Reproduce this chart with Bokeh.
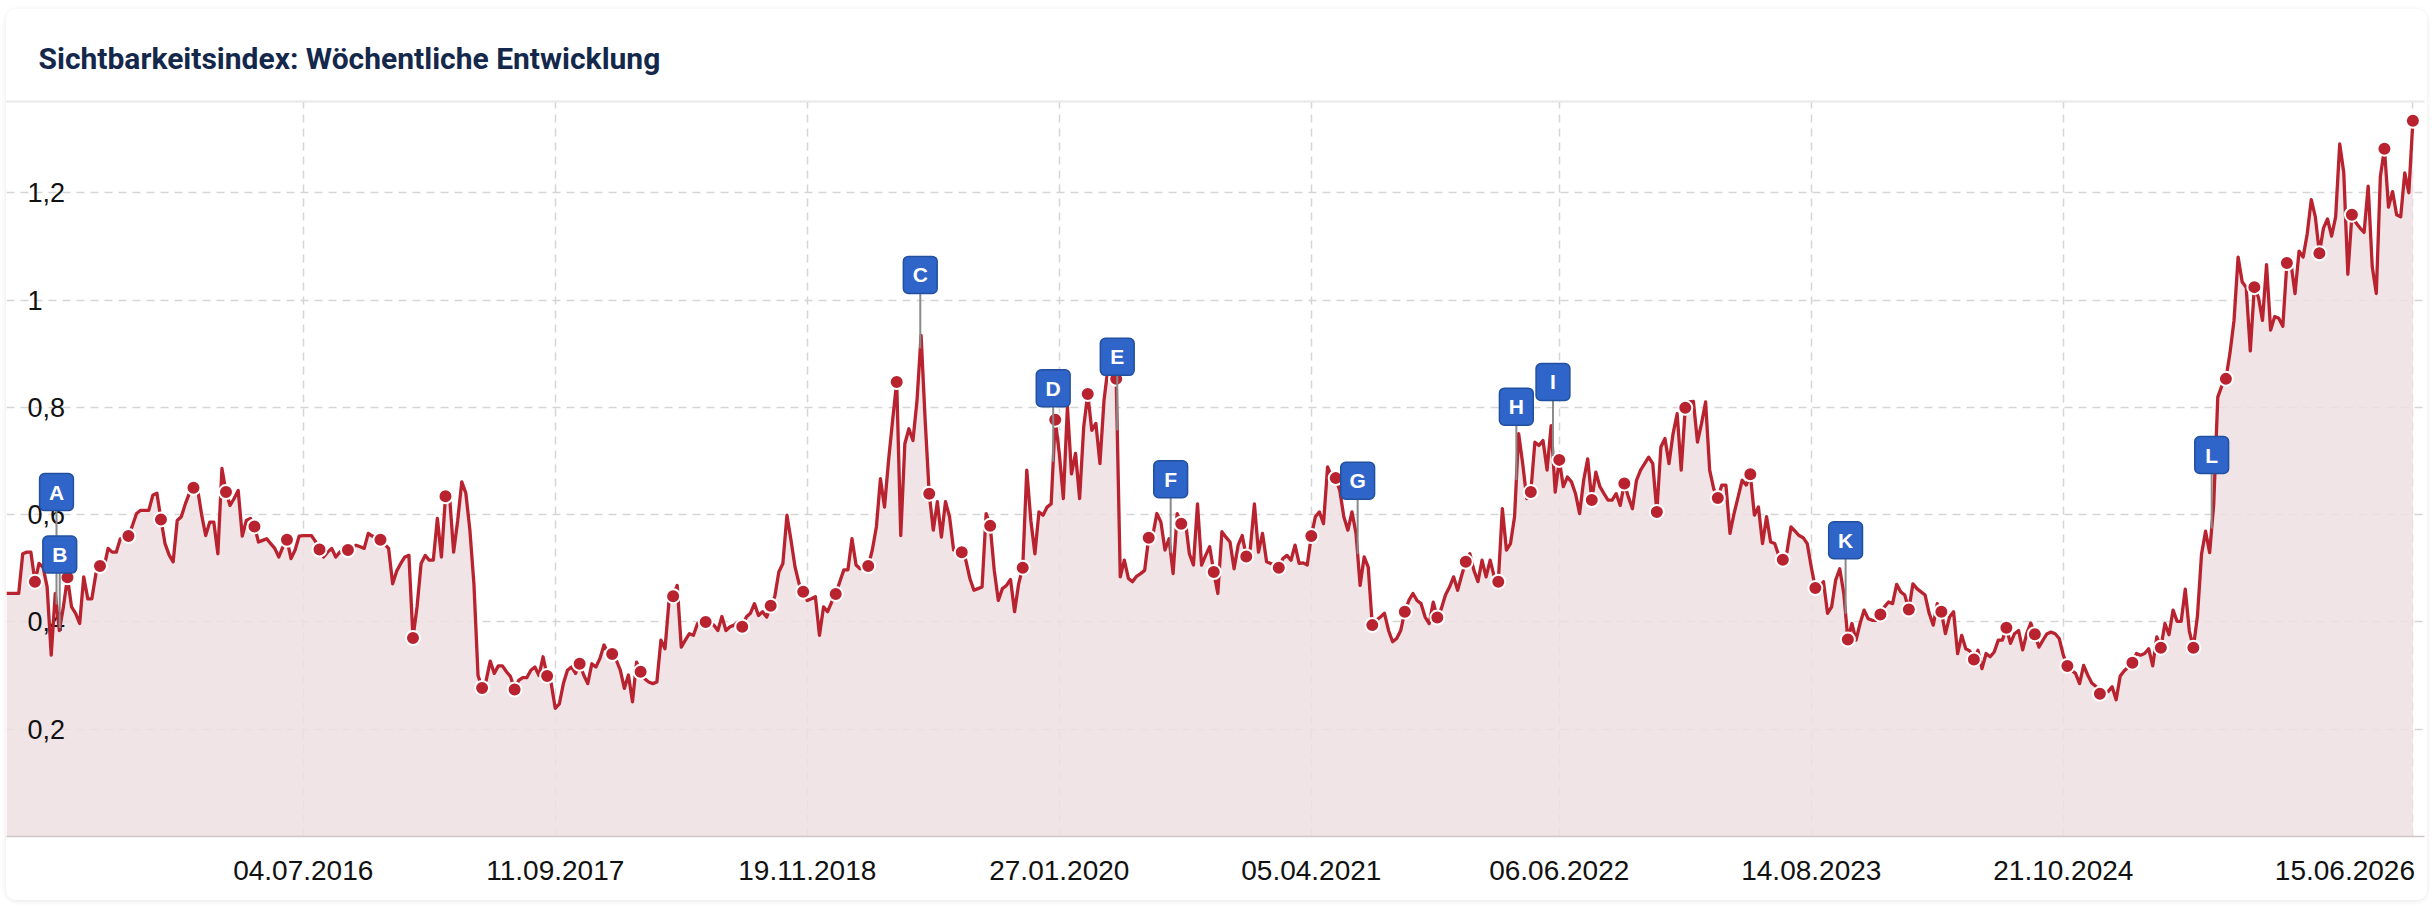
import numpy as np
from bokeh.plotting import figure
from bokeh.models import Range1d, FixedTicker, LinearAxis
from bokeh.core.properties import value
from bokeh.embed import file_html
from bokeh.resources import INLINE

# ---------------- data ----------------
title_text = "Sichtbarkeitsindex: Wöchentliche Entwicklung"
start_date = "2015-02-09"          # first weekly value (Monday)

visibility = [
    0.453, 0.453, 0.453, 0.453, 0.527, 0.530, 0.530, 0.475, 0.509, 0.502,
    0.465, 0.338, 0.453, 0.384, 0.428, 0.483, 0.428, 0.416, 0.397, 0.484,
    0.443, 0.443, 0.490, 0.504, 0.502, 0.537, 0.530, 0.530, 0.555, 0.558,
    0.560, 0.580, 0.602, 0.608, 0.608, 0.608, 0.636, 0.640, 0.591, 0.546,
    0.525, 0.512, 0.589, 0.596, 0.620, 0.640, 0.650, 0.648, 0.600, 0.561,
    0.586, 0.586, 0.527, 0.686, 0.642, 0.617, 0.630, 0.645, 0.560, 0.589,
    0.593, 0.578, 0.549, 0.552, 0.555, 0.546, 0.537, 0.521, 0.540, 0.553,
    0.518, 0.534, 0.560, 0.561, 0.561, 0.561, 0.550, 0.535, 0.521, 0.530,
    0.537, 0.521, 0.530, 0.537, 0.534, 0.537, 0.543, 0.540, 0.537, 0.565,
    0.560, 0.558, 0.553, 0.545, 0.537, 0.471, 0.495, 0.509, 0.521, 0.524,
    0.370, 0.428, 0.509, 0.524, 0.515, 0.515, 0.593, 0.521, 0.634, 0.634,
    0.530, 0.589, 0.661, 0.640, 0.571, 0.470, 0.300, 0.277, 0.291, 0.327,
    0.304, 0.318, 0.318, 0.307, 0.298, 0.274, 0.291, 0.296, 0.296, 0.310,
    0.316, 0.300, 0.335, 0.299, 0.285, 0.239, 0.247, 0.285, 0.310, 0.316,
    0.304, 0.322, 0.301, 0.285, 0.322, 0.316, 0.332, 0.357, 0.341, 0.340,
    0.329, 0.310, 0.276, 0.301, 0.251, 0.325, 0.307, 0.294, 0.288, 0.285,
    0.288, 0.366, 0.350, 0.440, 0.448, 0.468, 0.353, 0.366, 0.378, 0.375,
    0.397, 0.403, 0.400, 0.397, 0.394, 0.384, 0.410, 0.384, 0.391, 0.394,
    0.400, 0.391, 0.409, 0.416, 0.434, 0.412, 0.419, 0.409, 0.430, 0.447,
    0.493, 0.509, 0.599, 0.552, 0.502, 0.471, 0.456, 0.440, 0.443, 0.447,
    0.375, 0.428, 0.419, 0.437, 0.452, 0.475, 0.497, 0.497, 0.555, 0.506,
    0.499, 0.502, 0.504, 0.534, 0.577, 0.667, 0.614, 0.701, 0.776, 0.847,
    0.561, 0.732, 0.760, 0.738, 0.813, 0.934, 0.776, 0.639, 0.571, 0.624,
    0.558, 0.624, 0.596, 0.534, 0.532, 0.530, 0.515, 0.481, 0.459, 0.462,
    0.465, 0.602, 0.579, 0.496, 0.440, 0.462, 0.468, 0.479, 0.419, 0.471,
    0.501, 0.683, 0.589, 0.527, 0.605, 0.599, 0.614, 0.620, 0.777, 0.714,
    0.630, 0.801, 0.676, 0.714, 0.630, 0.763, 0.825, 0.757, 0.770, 0.695,
    0.813, 0.875, 0.863, 0.853, 0.484, 0.515, 0.481, 0.475, 0.485, 0.490,
    0.496, 0.557, 0.561, 0.602, 0.586, 0.534, 0.555, 0.490, 0.602, 0.583,
    0.589, 0.527, 0.506, 0.620, 0.506, 0.524, 0.540, 0.493, 0.453, 0.568,
    0.558, 0.549, 0.499, 0.543, 0.561, 0.522, 0.537, 0.620, 0.530, 0.565,
    0.512, 0.509, 0.506, 0.501, 0.518, 0.524, 0.515, 0.543, 0.509, 0.510,
    0.506, 0.560, 0.596, 0.605, 0.583, 0.689, 0.670, 0.668, 0.645, 0.596,
    0.571, 0.605, 0.565, 0.468, 0.521, 0.502, 0.394, 0.403, 0.409, 0.416,
    0.384, 0.363, 0.369, 0.384, 0.419, 0.440, 0.453, 0.440, 0.434, 0.409,
    0.397, 0.437, 0.408, 0.425, 0.450, 0.465, 0.484, 0.459, 0.487, 0.512,
    0.527, 0.496, 0.475, 0.515, 0.484, 0.515, 0.484, 0.475, 0.611, 0.534,
    0.546, 0.596, 0.751, 0.695, 0.630, 0.642, 0.735, 0.729, 0.738, 0.683,
    0.766, 0.642, 0.702, 0.652, 0.670, 0.661, 0.639, 0.602, 0.664, 0.704,
    0.627, 0.679, 0.652, 0.639, 0.627, 0.627, 0.639, 0.617, 0.658, 0.633,
    0.611, 0.664, 0.683, 0.695, 0.707, 0.695, 0.605, 0.726, 0.742, 0.695,
    0.751, 0.788, 0.683, 0.799, 0.810, 0.811, 0.735, 0.770, 0.810, 0.683,
    0.648, 0.631, 0.655, 0.655, 0.565, 0.602, 0.633, 0.664, 0.655, 0.675,
    0.599, 0.614, 0.546, 0.596, 0.549, 0.546, 0.524, 0.516, 0.530, 0.577,
    0.569, 0.561, 0.557, 0.546, 0.502, 0.463, 0.465, 0.475, 0.416, 0.428,
    0.478, 0.499, 0.453, 0.367, 0.397, 0.366, 0.397, 0.422, 0.406, 0.403,
    0.403, 0.414, 0.428, 0.437, 0.434, 0.470, 0.456, 0.450, 0.423, 0.471,
    0.462, 0.456, 0.450, 0.416, 0.394, 0.434, 0.419, 0.378, 0.409, 0.419,
    0.341, 0.375, 0.350, 0.346, 0.330, 0.347, 0.313, 0.341, 0.335, 0.344,
    0.366, 0.366, 0.389, 0.360, 0.378, 0.384, 0.348, 0.378, 0.398, 0.377,
    0.353, 0.366, 0.378, 0.381, 0.378, 0.369, 0.338, 0.318, 0.310, 0.304,
    0.285, 0.319, 0.301, 0.286, 0.280, 0.266, 0.266, 0.270, 0.279, 0.255,
    0.299, 0.309, 0.316, 0.324, 0.341, 0.338, 0.341, 0.350, 0.318, 0.372,
    0.352, 0.397, 0.376, 0.422, 0.401, 0.401, 0.461, 0.383, 0.352, 0.411,
    0.526, 0.569, 0.529, 0.619, 0.819, 0.840, 0.853, 0.901, 0.962, 1.080,
    1.034, 1.023, 0.905, 1.024, 1.005, 0.962, 1.066, 0.944, 0.969, 0.966,
    0.951, 1.069, 1.069, 1.012, 1.091, 1.080, 1.123, 1.187, 1.155, 1.087,
    1.134, 1.151, 1.119, 1.155, 1.291, 1.237, 1.048, 1.159, 1.144, 1.134,
    1.126, 1.212, 1.062, 1.012, 1.230, 1.282, 1.173, 1.202, 1.159, 1.155,
    1.237, 1.200, 1.334,
]

# weeks (index into visibility) that carry a round marker
marker_weeks = [7, 15, 23, 30, 38, 46, 54, 61, 69, 77, 84, 92, 100, 108, 117,
                125, 133, 141, 149, 156, 164, 172, 181, 188, 196, 204, 212, 219,
                227, 235, 242, 250, 258, 266, 273, 281, 289, 297, 305, 313, 321,
                327, 336, 344, 352, 359, 367, 375, 382, 390, 398, 406, 413, 421,
                429, 437, 445, 453, 461, 468, 476, 484, 492, 499, 507, 515, 523,
                530, 538, 546, 553, 561, 569, 577, 585, 592]

# event flags (position in weeks since start)
flag_letters = ["A", "B", "C", "D", "E", "F", "G", "H", "I", "K", "L"]
flag_weeks = [12.3, 13.1, 224.8, 257.5, 273.26, 286.4, 332.4, 371.44, 380.45, 452.44, 542.5]
flag_stack = [1, 0, 0, 0, 0, 0, 0, 0, 0, 0, 0]

x_tick_labels = ["04.07.2016", "11.09.2017", "19.11.2018", "27.01.2020", "05.04.2021",
                 "06.06.2022", "14.08.2023", "21.10.2024", "15.06.2026"]
y_ticks = [0.2, 0.4, 0.6, 0.8, 1.0, 1.2]
y_tick_labels = ["0,2", "0,4", "0,6", "0,8", "1", "1,2"]

# ---------------- derived ----------------
DAY = 86400000.0
WEEK = 7 * DAY
vals = np.array(visibility)
n = len(vals)
t0 = float(np.datetime64(start_date, "ms").astype("int64"))
xs = t0 + np.arange(n) * WEEK


def parse(d):
    dd, mm, yy = d.split(".")
    return float(np.datetime64(f"{yy}-{mm}-{dd}", "ms").astype("int64"))


tick_ms = [parse(s) for s in x_tick_labels]

# ---------------- layout ----------------
W, H = 2421, 891
BL, BR, BT, BB = 0, 3, 92, 64
frame_w = W - BL - BR
frame_h = H - BT - BB
YMAX = 1.37
ppu = frame_h / YMAX                     # pixels per unit on y
x_start, x_end = xs[0], xs[-1] + 20 * DAY
ppms = frame_w / (x_end - x_start)       # pixels per ms on x

LINE = "#b8232f"
FILL = "#eedfe2"
GRID = "#d5d5d5"
LABEL_PX = 28

p = figure(width=W, height=H, x_axis_type="datetime",
           x_range=Range1d(x_start, x_end), y_range=Range1d(0, YMAX),
           output_backend="svg", toolbar_location=None,
           min_border_left=BL, min_border_right=BR, min_border_top=BT, min_border_bottom=BB,
           border_fill_color="white", background_fill_color="white",
           outline_line_color=None)
p.margin = (9, 5, 16, 6)
p.styles = {"border-radius": "10px", "box-shadow": "0 1px 5px rgba(0,0,0,0.10)", "overflow": "hidden"}

# title
p.title.text = title_text
p.title.text_font = "Roboto"
p.title.text_font_style = "bold"
p.title.text_font_size = "30px"
p.title.text_color = "#14284b"
p.title.align = "left"
p.title.offset = 32
p.title.standoff = 51

p.yaxis.visible = False

# x axis: last label is pulled left so it ends at the plot edge
last_shift = (LABEL_PX * 5.0 / 2 - 2) / ppms
axis_ticks = tick_ms[:-1] + [tick_ms[-1] - last_shift]
p.xaxis.ticker = FixedTicker(ticks=axis_ticks)
p.xaxis.major_label_overrides = {t: lab for t, lab in zip(axis_ticks, x_tick_labels)}
p.xaxis.major_label_text_font = "Liberation Sans"
p.xaxis.major_label_text_font_size = f"{LABEL_PX}px"
p.xaxis.major_label_text_color = "#111111"
p.xaxis.major_label_standoff = 18
p.xaxis.major_tick_line_color = None
p.xaxis.minor_tick_line_color = None
p.xaxis.axis_line_color = "#cfc6c8"
p.xaxis.axis_line_width = 1.5

p.xgrid.ticker = FixedTicker(ticks=tick_ms)
p.ygrid.ticker = FixedTicker(ticks=y_ticks)
for g in (p.xgrid, p.ygrid):
    g.grid_line_color = GRID
    g.grid_line_dash = "8 6"
    g.grid_line_width = 1.5

# header divider
top_axis = LinearAxis(ticker=FixedTicker(ticks=[]), axis_line_color="#e8e8e8", axis_line_width=2,
                      major_tick_line_color=None, minor_tick_line_color=None,
                      major_label_text_font_size="0px")
p.add_layout(top_axis, "above")

# series area
p.varea(x=xs, y1=np.zeros(n), y2=vals, fill_color=FILL, fill_alpha=0.85)

# y tick labels inside the plot
p.text(x=[x_start] * len(y_ticks), y=y_ticks, text=y_tick_labels, x_offset=21,
       text_align="left", text_baseline="middle", text_font=value("Liberation Sans"),
       text_font_size="27px", text_color="#111111")

# series line + markers
p.line(xs, vals, line_color=LINE, line_width=3.3, line_join="round")
mi = np.array(marker_weeks)
p.scatter(xs[mi], vals[mi], size=14, fill_color=LINE, line_color="white", line_width=2)

# flags
fw = np.array(flag_weeks)
fx = t0 + fw * WEEK
fy = np.interp(fw, np.arange(n), vals)
stack = np.array(flag_stack)
stem_top = fy + (55 + stack * 39) / ppu
box_y = fy + (55 + 18.5 + stack * 39) / ppu
p.segment(fx, fy, fx, stem_top, line_color="#8a8a8a", line_width=2)
p.text(x=fx, y=box_y, text=value("W"), text_alpha=0, text_align="center", text_baseline="middle",
       text_font=value("Liberation Sans"), text_font_style="bold", text_font_size="21px",
       background_fill_color="#2f64c9", border_line_color="#22509f", border_line_width=1.5,
       border_radius=5, padding=7)
p.text(x=fx, y=box_y, text=flag_letters, text_align="center", text_baseline="middle",
       text_font=value("Liberation Sans"), text_font_style="bold", text_font_size="21px",
       text_color="white")

html = file_html(p, INLINE)
html = html.replace("<body>", '<body style="margin:0;background:#f6f6f6;">', 1)
open("out.html", "w").write(html)
